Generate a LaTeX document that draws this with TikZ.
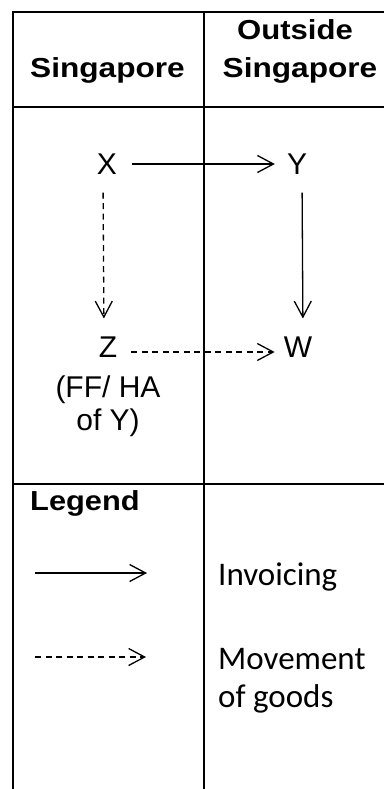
\documentclass[tikz,border=0pt]{standalone}
\usepackage{fontspec}
\setmainfont{Liberation Sans}
\newfontfamily\calib{Carlito}
\usetikzlibrary{arrows.meta}
\tikzset{
  grid/.style={line width=2.3pt, line cap=rect},
  lbl/.style={inner sep=0pt, font=\fontsize{30}{36}\selectfont},
  hdr/.style={inner sep=0pt, font=\fontsize{27.5}{33}\selectfont\bfseries},
  leg/.style={inner sep=0pt, font=\fontsize{33}{39}\selectfont\calib, align=left},
  inv/.style={line width=1.3pt, -{Straight Barb[length=16pt,width=17pt,line width=1.3pt]}},
  mov/.style={inv, dash pattern=on 6pt off 4.5pt},
}
\begin{document}
\begin{tikzpicture}[x=1pt,y=-1pt]
\useasboundingbox (0,0) rectangle (383,789);
% table
\draw[grid] (13,789) -- (13,12) -- (383,12);
\draw[grid] (204,12) -- (204,789);
\draw[grid] (13,107) -- (383,107);
\draw[grid] (13,484) -- (383,484);
% headers
\node[hdr, anchor=base] (h1) at (107.5,78) {\scalebox{1.15}[1]{Singapore}};
\node[hdr, anchor=base] (h2) at (295,40) {\scalebox{1.13}[1]{Outside}};
\node[hdr, anchor=base] (h3) at (300,78) {\scalebox{1.15}[1]{Singapore}};
% parties
\node[lbl] (X) at (107,164) {X};
\node[lbl] (Y) at (297,164) {Y};
\node[lbl] (Z) at (108,347) {Z};
\node[lbl] (W) at (298,347) {W};
\node[lbl, anchor=base] (zd1) at (108,397) {(FF/ HA};
\node[lbl, anchor=base] (zd2) at (108,430) {of Y)};
% connectors
\draw[inv, shorten <=15pt, shorten >=12pt] (X.east) -- (Y.west);
\draw[inv, shorten <=18pt, shorten >=18pt] ([xshift=5pt]Y.south) -- ([xshift=5pt]W.north);
\draw[mov, shorten <=18pt, shorten >=18pt] ([xshift=-4pt]X.south) -- ([xshift=-4pt]Z.north);
\draw[mov, shorten <=14pt, shorten >=9pt] ([yshift=-5pt]Z.east) -- ([yshift=-5pt]W.west);
% legend
\node[hdr, anchor=base west] (lg) at (30,510) {\scalebox{1.12}[1]{Legend}};
\coordinate (l1s) at (35,573);
\coordinate (l1e) at (147,573);
\coordinate (l2s) at (35,657);
\coordinate (l2e) at (146,657);
\draw[inv] (l1s) -- (l1e);
\draw[mov] (l2s) -- (l2e);
\node[leg, anchor=base west] (t1) at (218,585) {Invoicing};
\node[leg, anchor=base west] (t2) at (218,669) {Movement};
\node[leg, anchor=base west] (t3) at (218,707) {of goods};
\end{tikzpicture}
\end{document}
